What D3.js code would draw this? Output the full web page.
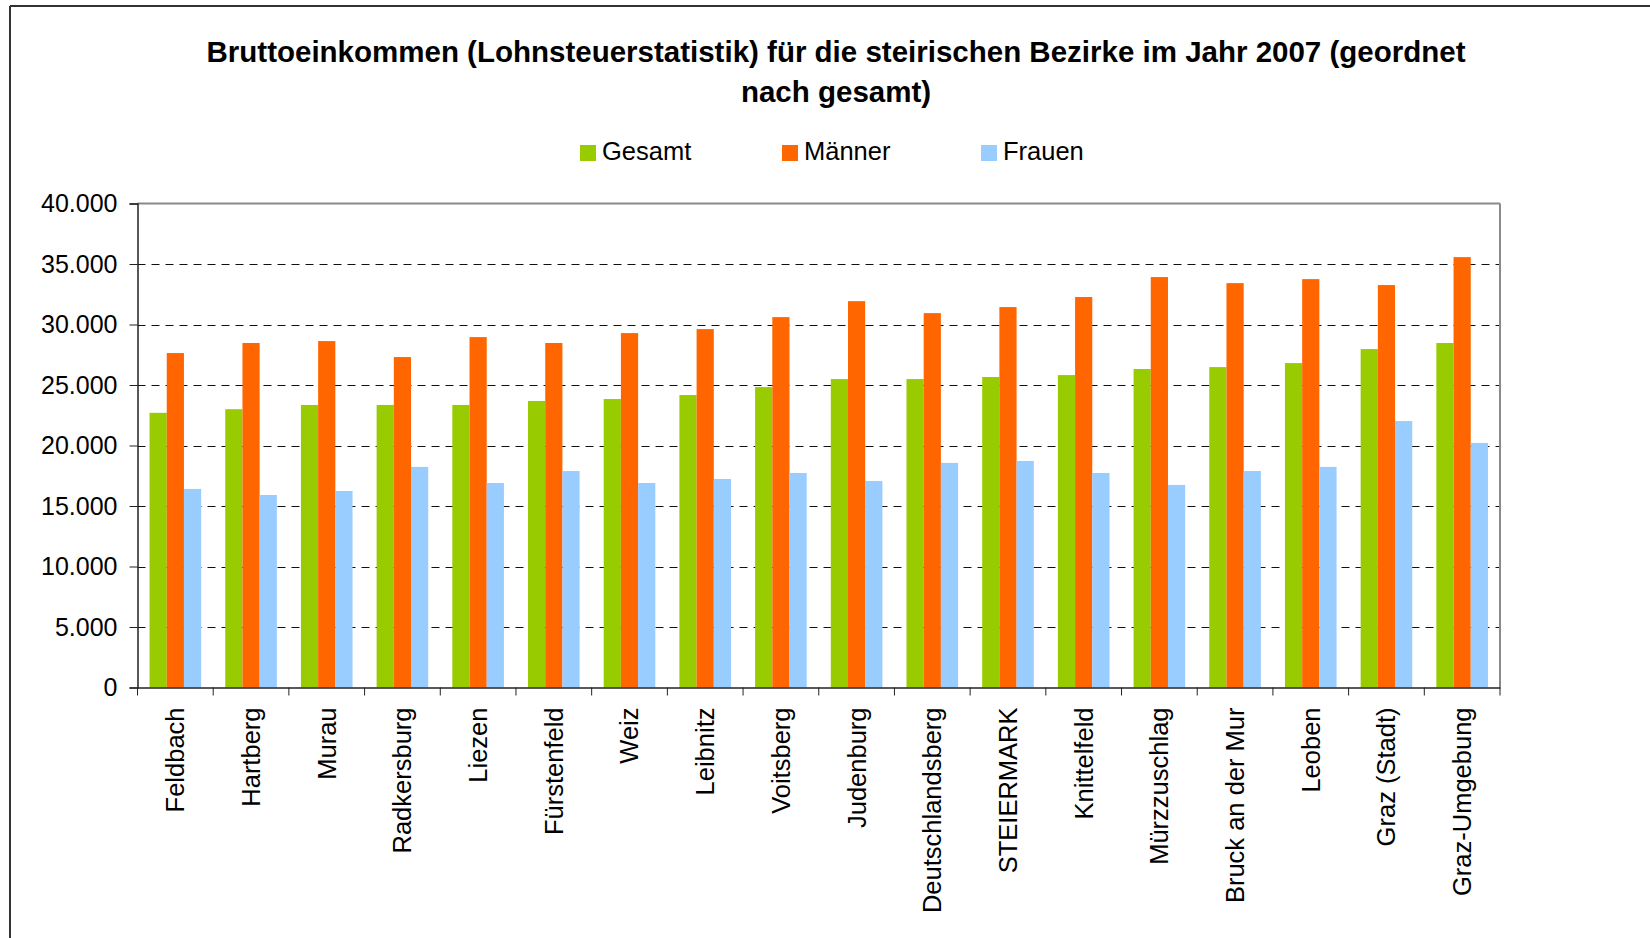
<!DOCTYPE html>
<html>
<head>
<meta charset="utf-8">
<script src="https://cdn.jsdelivr.net/npm/d3@7"></script>
<style>
  html, body { margin: 0; padding: 0; background: #fff; }
  svg { display: block; font-family: "Liberation Sans", Arial, sans-serif; }
</style>
</head>
<body>
<svg id="chart" width="1650" height="938"></svg>
<script>
const categories = ["Feldbach", "Hartberg", "Murau", "Radkersburg", "Liezen", "Fürstenfeld", "Weiz", "Leibnitz", "Voitsberg", "Judenburg", "Deutschlandsberg", "STEIERMARK", "Knittelfeld", "Mürzzuschlag", "Bruck an der Mur", "Leoben", "Graz (Stadt)", "Graz-Umgebung"];
const seriesNames = ["Gesamt", "Männer", "Frauen"];
const gesamt = [22700, 23000, 23350, 23350, 23350, 23680, 23840, 24170, 24830, 25490, 25490, 25660, 25820, 26320, 26480, 26810, 27970, 28470];
const maenner = [27640, 28470, 28630, 27310, 28960, 28470, 29290, 29620, 30610, 31930, 30940, 31440, 32270, 33920, 33420, 33750, 33260, 35570];
const frauen = [16410, 15910, 16240, 18230, 16900, 17890, 16900, 17230, 17730, 17070, 18560, 18720, 17730, 16740, 17890, 18230, 22020, 20210];
const yTicks = [0, 5000, 10000, 15000, 20000, 25000, 30000, 35000, 40000];
const colors = ["#99CC00", "#FF6600", "#99CCFF"];
const titleLines = ["Bruttoeinkommen (Lohnsteuerstatistik) für die steirischen Bezirke im Jahr 2007 (geordnet", "nach gesamt)"];

(function () {
const seriesValues = [gesamt, maenner, frauen];
const svg = d3.select("#chart");

// outer chart border (top and left)
svg.append("line").attr("x1", 10).attr("x2", 1650).attr("y1", 6).attr("y2", 6)
  .attr("stroke", "#333").attr("stroke-width", 2);
svg.append("line").attr("x1", 10).attr("x2", 10).attr("y1", 6).attr("y2", 938)
  .attr("stroke", "#333").attr("stroke-width", 2);

const pLeft = 137.5, pRight = 1500, pTop = 203.5, pBottom = 687.5;

const x0 = d3.scaleBand().domain(categories).range([pLeft, pRight]).paddingInner(0).paddingOuter(0);
const x1 = d3.scaleBand().domain(seriesNames).range([0, x0.bandwidth()]).paddingInner(0).paddingOuter(0.7);
const y = d3.scaleLinear().domain([0, 40000]).range([pBottom, pTop]);

const locale = d3.formatLocale({decimal: ",", thousands: ".", grouping: [3], currency: ["", "€"]});
const fmt = locale.format(",d");

// gridlines
svg.append("g").selectAll("line").data(yTicks.filter(d => d > 0 && d < 40000)).join("line")
  .attr("x1", pLeft).attr("x2", pRight)
  .attr("y1", d => Math.round(y(d)) + 0.5).attr("y2", d => Math.round(y(d)) + 0.5)
  .attr("stroke", "#111").attr("stroke-width", 1).attr("stroke-dasharray", "8,6");

// plot border top and right
svg.append("line").attr("x1", pLeft).attr("x2", pRight).attr("y1", pTop).attr("y2", pTop)
  .attr("stroke", "#8a8a8a").attr("stroke-width", 2);
svg.append("line").attr("x1", pRight).attr("x2", pRight).attr("y1", pTop).attr("y2", pBottom)
  .attr("stroke", "#8a8a8a").attr("stroke-width", 2);

// bars
const rows = categories.map((c, i) => ({cat: c, vals: seriesNames.map((s, j) => ({s, v: seriesValues[j][i], j}))}));
svg.append("g").selectAll("g").data(rows).join("g")
  .attr("transform", d => `translate(${x0(d.cat)},0)`)
  .selectAll("rect").data(d => d.vals).join("rect")
  .attr("x", d => x1(d.s)).attr("width", x1.bandwidth())
  .attr("y", d => y(d.v)).attr("height", d => y(0) - y(d.v))
  .attr("fill", d => colors[d.j]);

// y axis
const yAxis = d3.axisLeft(y).tickValues(yTicks).tickFormat(fmt).tickSize(8).tickPadding(12);
const gy = svg.append("g").attr("transform", `translate(${pLeft},0)`).call(yAxis);
gy.select(".domain").attr("stroke", "#222").attr("stroke-width", 1.5);
gy.selectAll(".tick line").attr("stroke", "#222");
gy.selectAll("text").attr("font-size", 25).attr("fill", "#000").attr("font-family", "Liberation Sans, Arial, sans-serif");

// x axis
const xAxis = d3.axisBottom(x0).tickSize(0).tickPadding(0);
const gx = svg.append("g").attr("transform", `translate(0,${pBottom})`).call(xAxis);
gx.select(".domain").attr("stroke", "#222").attr("stroke-width", 1.5);
gx.selectAll(".tick text")
  .attr("font-size", 25.5).attr("fill", "#000").attr("font-family", "Liberation Sans, Arial, sans-serif")
  .attr("transform", "rotate(-90)")
  .attr("text-anchor", "end")
  .attr("x", -20).attr("y", 0).attr("dy", "0.35em");
// boundary ticks
const bounds = categories.map(c => x0(c)).concat([pRight]);
gx.append("g").selectAll("line").data(bounds).join("line")
  .attr("x1", d => d).attr("x2", d => d).attr("y1", 0).attr("y2", 8)
  .attr("stroke", "#222").attr("stroke-width", 1);

// title
svg.append("g").selectAll("text").data(titleLines).join("text")
  .attr("x", 836).attr("y", (d, i) => 62 + i * 40)
  .attr("text-anchor", "middle").attr("font-weight", "bold").attr("font-size", 29.5)
  .attr("fill", "#000").text(d => d);

// legend
const legendX = [580, 782, 981];
const lg = svg.append("g").selectAll("g").data(seriesNames).join("g")
  .attr("transform", (d, i) => `translate(${legendX[i]},145)`);
lg.append("rect").attr("width", 16).attr("height", 16).attr("fill", (d, i) => colors[i]);
lg.append("text").attr("x", 22).attr("y", 15).attr("font-size", 25.5).attr("fill", "#000").text(d => d);
})();
</script>
</body>
</html>
